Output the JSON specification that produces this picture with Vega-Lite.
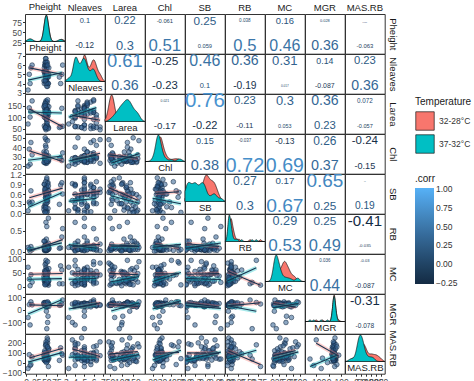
{
"$schema":"https://vega.github.io/schema/vega-lite/v6.json",
"padding":{"left":1,"top":1,"right":1,"bottom":1},
"datasets":{
"obs":[
{"T":"32-28°C","Ph":48,"Nl":6,"La":120,"Chl":30,"SB":0.8,"RB":0.1,"MC":44,"MGR":41,"MASRB":100},
{"T":"32-28°C","Ph":50,"Nl":4.3,"La":58,"Chl":27,"SB":0.45,"RB":0.06,"MC":62,"MGR":48,"MASRB":40},
{"T":"32-28°C","Ph":52,"Nl":5,"La":150,"Chl":25,"SB":0.62,"RB":0.15,"MC":30,"MGR":30,"MASRB":160},
{"T":"32-28°C","Ph":45,"Nl":5.7,"La":62,"Chl":33,"SB":0.9,"RB":0.09,"MC":48,"MGR":55,"MASRB":65},
{"T":"32-28°C","Ph":47,"Nl":6.3,"La":98,"Chl":28,"SB":0.3,"RB":0.12,"MC":55,"MGR":38,"MASRB":20},
{"T":"32-28°C","Ph":55,"Nl":4.7,"La":55,"Chl":29,"SB":0.72,"RB":0.05,"MC":25,"MGR":45,"MASRB":120},
{"T":"32-28°C","Ph":49,"Nl":5.3,"La":165,"Chl":24,"SB":0.58,"RB":0.2,"MC":70,"MGR":25,"MASRB":85},
{"T":"32-28°C","Ph":51,"Nl":5,"La":66,"Chl":31,"SB":1.05,"RB":0.08,"MC":38,"MGR":52,"MASRB":35},
{"T":"32-28°C","Ph":53,"Nl":4,"La":60,"Chl":27,"SB":0.4,"RB":0.1,"MC":45,"MGR":44,"MASRB":200},
{"T":"32-28°C","Ph":46,"Nl":6,"La":128,"Chl":28,"SB":0.68,"RB":0.14,"MC":20,"MGR":60,"MASRB":55},
{"T":"32-28°C","Ph":50,"Nl":5.7,"La":50,"Chl":26,"SB":0.85,"RB":0.07,"MC":58,"MGR":35,"MASRB":95},
{"T":"32-28°C","Ph":44,"Nl":5.3,"La":112,"Chl":35,"SB":0.2,"RB":0.11,"MC":36,"MGR":49,"MASRB":30},
{"T":"32-28°C","Ph":56,"Nl":5,"La":145,"Chl":29,"SB":0.6,"RB":0.09,"MC":65,"MGR":28,"MASRB":140},
{"T":"32-28°C","Ph":48,"Nl":6.7,"La":57,"Chl":23,"SB":0.75,"RB":0.18,"MC":42,"MGR":42,"MASRB":70},
{"T":"32-28°C","Ph":52,"Nl":4.7,"La":135,"Chl":30,"SB":0.5,"RB":0.04,"MC":28,"MGR":50,"MASRB":250},
{"T":"32-28°C","Ph":54,"Nl":5,"La":105,"Chl":27,"SB":0.95,"RB":0.13,"MC":52,"MGR":-50,"MASRB":45},
{"T":"32-28°C","Ph":47,"Nl":6,"La":52,"Chl":32,"SB":0.64,"RB":0.1,"MC":80,"MGR":46,"MASRB":60},
{"T":"32-28°C","Ph":49,"Nl":4.3,"La":170,"Chl":28,"SB":0.1,"RB":0.16,"MC":47,"MGR":40,"MASRB":190},
{"T":"32-28°C","Ph":51,"Nl":5,"La":65,"Chl":26,"SB":0.82,"RB":0.08,"MC":60,"MGR":58,"MASRB":25},
{"T":"32-28°C","Ph":50,"Nl":6.3,"La":110,"Chl":30,"SB":0.55,"RB":0.3,"MC":35,"MGR":32,"MASRB":110},
{"T":"32-28°C","Ph":12,"Nl":5.7,"La":125,"Chl":45,"SB":0.7,"RB":0.12,"MC":43,"MGR":65,"MASRB":-20},
{"T":"32-28°C","Ph":8,"Nl":5,"La":140,"Chl":38,"SB":0.35,"RB":0.06,"MC":27,"MGR":43,"MASRB":80},
{"T":"32-28°C","Ph":85,"Nl":4,"La":58,"Chl":29,"SB":0.88,"RB":0.09,"MC":75,"MGR":39,"MASRB":150},
{"T":"32-28°C","Ph":90,"Nl":6,"La":60,"Chl":34,"SB":0.6,"RB":0.55,"MC":10,"MGR":80,"MASRB":75},
{"T":"32-28°C","Ph":53,"Nl":3.7,"La":102,"Chl":28,"SB":0.92,"RB":0.1,"MC":50,"MGR":-100,"MASRB":230},
{"T":"32-28°C","Ph":46,"Nl":5.3,"La":155,"Chl":27,"SB":0.05,"RB":0.25,"MC":57,"MGR":47,"MASRB":50},
{"T":"32-28°C","Ph":49,"Nl":6.7,"La":45,"Chl":48,"SB":0.65,"RB":0.02,"MC":85,"MGR":37,"MASRB":210},
{"T":"32-28°C","Ph":51,"Nl":6,"La":120,"Chl":25,"SB":0.8,"RB":0.15,"MC":46,"MGR":45,"MASRB":90},
{"T":"32-28°C","Ph":55,"Nl":5,"La":50,"Chl":31,"SB":0.7,"RB":0.8,"MC":5,"MGR":48,"MASRB":-40},
{"T":"32-28°C","Ph":48,"Nl":6.3,"La":55,"Chl":42,"SB":0.98,"RB":0.03,"MC":40,"MGR":42,"MASRB":170},
{"T":"37-32°C","Ph":50,"Nl":4.3,"La":130,"Chl":27,"SB":0.45,"RB":0.05,"MC":15,"MGR":40,"MASRB":55},
{"T":"37-32°C","Ph":49,"Nl":5,"La":110,"Chl":25,"SB":0.1,"RB":0.08,"MC":22,"MGR":45,"MASRB":30},
{"T":"37-32°C","Ph":51,"Nl":4,"La":95,"Chl":28,"SB":0.6,"RB":0.03,"MC":12,"MGR":32,"MASRB":70},
{"T":"37-32°C","Ph":47,"Nl":5.3,"La":150,"Chl":24,"SB":0.25,"RB":0.1,"MC":30,"MGR":50,"MASRB":20},
{"T":"37-32°C","Ph":53,"Nl":4.7,"La":120,"Chl":26,"SB":0.35,"RB":0.06,"MC":10,"MGR":38,"MASRB":45},
{"T":"37-32°C","Ph":45,"Nl":4,"La":100,"Chl":29,"SB":0.9,"RB":0.04,"MC":20,"MGR":42,"MASRB":100},
{"T":"37-32°C","Ph":52,"Nl":5.7,"La":165,"Chl":25,"SB":0.05,"RB":0.12,"MC":38,"MGR":25,"MASRB":10},
{"T":"37-32°C","Ph":48,"Nl":4.3,"La":115,"Chl":27,"SB":0.5,"RB":0.05,"MC":14,"MGR":46,"MASRB":65},
{"T":"37-32°C","Ph":50,"Nl":6,"La":90,"Chl":30,"SB":0.3,"RB":0.07,"MC":26,"MGR":52,"MASRB":38},
{"T":"37-32°C","Ph":46,"Nl":5,"La":140,"Chl":24,"SB":0.75,"RB":0.02,"MC":9,"MGR":35,"MASRB":120},
{"T":"37-32°C","Ph":54,"Nl":4,"La":128,"Chl":26,"SB":0.15,"RB":0.15,"MC":17,"MGR":44,"MASRB":25},
{"T":"37-32°C","Ph":49,"Nl":4.7,"La":105,"Chl":28,"SB":0.58,"RB":0.04,"MC":45,"MGR":30,"MASRB":50},
{"T":"37-32°C","Ph":51,"Nl":3.7,"La":80,"Chl":23,"SB":0.4,"RB":0.09,"MC":11,"MGR":48,"MASRB":80},
{"T":"37-32°C","Ph":47,"Nl":5.3,"La":160,"Chl":27,"SB":0.2,"RB":0.05,"MC":25,"MGR":40,"MASRB":15},
{"T":"37-32°C","Ph":55,"Nl":4,"La":122,"Chl":25,"SB":0.85,"RB":0.2,"MC":19,"MGR":55,"MASRB":140},
{"T":"37-32°C","Ph":50,"Nl":5,"La":135,"Chl":31,"SB":0.02,"RB":0.03,"MC":8,"MGR":-10,"MASRB":0},
{"T":"37-32°C","Ph":48,"Nl":4.7,"La":112,"Chl":26,"SB":0.48,"RB":0.11,"MC":52,"MGR":49,"MASRB":60},
{"T":"37-32°C","Ph":52,"Nl":6.3,"La":75,"Chl":29,"SB":0.65,"RB":0.06,"MC":13,"MGR":36,"MASRB":35},
{"T":"37-32°C","Ph":44,"Nl":4.3,"La":145,"Chl":24,"SB":0.12,"RB":0.25,"MC":28,"MGR":58,"MASRB":75},
{"T":"37-32°C","Ph":56,"Nl":5.7,"La":118,"Chl":27,"SB":0.55,"RB":0.07,"MC":21,"MGR":43,"MASRB":42},
{"T":"37-32°C","Ph":10,"Nl":4,"La":100,"Chl":22,"SB":0.3,"RB":0.01,"MC":3,"MGR":-120,"MASRB":-30},
{"T":"37-32°C","Ph":5,"Nl":3.3,"La":70,"Chl":20,"SB":0.08,"RB":0.1,"MC":70,"MGR":-60,"MASRB":-60},
{"T":"37-32°C","Ph":15,"Nl":6,"La":170,"Chl":32,"SB":0.35,"RB":0.05,"MC":16,"MGR":41,"MASRB":58},
{"T":"37-32°C","Ph":88,"Nl":5,"La":138,"Chl":26,"SB":0.95,"RB":0.35,"MC":60,"MGR":50,"MASRB":90},
{"T":"37-32°C","Ph":82,"Nl":4.7,"La":55,"Chl":28,"SB":0.28,"RB":0.08,"MC":10,"MGR":38,"MASRB":22},
{"T":"37-32°C","Ph":50,"Nl":5.3,"La":132,"Chl":35,"SB":0.6,"RB":0.04,"MC":32,"MGR":47,"MASRB":68},
{"T":"37-32°C","Ph":49,"Nl":4,"La":125,"Chl":40,"SB":0.18,"RB":0.7,"MC":95,"MGR":60,"MASRB":180},
{"T":"37-32°C","Ph":51,"Nl":5,"La":90,"Chl":25,"SB":1.1,"RB":0.6,"MC":15,"MGR":-150,"MASRB":36},
{"T":"37-32°C","Ph":53,"Nl":6,"La":175,"Chl":47,"SB":0.5,"RB":0.1,"MC":90,"MGR":65,"MASRB":160},
{"T":"37-32°C","Ph":47,"Nl":4.3,"La":150,"Chl":50,"SB":0.03,"RB":0.05,"MC":6,"MGR":34,"MASRB":40}
],
"cor":[
{"k":"12","T":"a","r":0.1},{"k":"12","T":"b","r":-0.12},
{"k":"13","T":"a","r":0.22},{"k":"13","T":"b","r":0.3},
{"k":"14","T":"a","r":-0.061},{"k":"14","T":"b","r":0.51},
{"k":"15","T":"a","r":0.25},{"k":"15","T":"b","r":0.059},
{"k":"16","T":"a","r":0.038},{"k":"16","T":"b","r":0.5},
{"k":"17","T":"a","r":0.16},{"k":"17","T":"b","r":0.46},
{"k":"18","T":"a","r":0.028},{"k":"18","T":"b","r":0.36},
{"k":"19","T":"a","r":0.006},{"k":"19","T":"b","r":-0.063},
{"k":"23","T":"a","r":0.61},{"k":"23","T":"b","r":0.36},
{"k":"24","T":"a","r":-0.25},{"k":"24","T":"b","r":-0.23},
{"k":"25","T":"a","r":0.46},{"k":"25","T":"b","r":0.1},
{"k":"26","T":"a","r":0.36},{"k":"26","T":"b","r":-0.19},
{"k":"27","T":"a","r":0.31},{"k":"27","T":"b","r":0.017},
{"k":"28","T":"a","r":0.14},{"k":"28","T":"b","r":-0.087},
{"k":"29","T":"a","r":0.23},{"k":"29","T":"b","r":0.36},
{"k":"34","T":"a","r":0.021},{"k":"34","T":"b","r":-0.17},
{"k":"35","T":"a","r":0.76},{"k":"35","T":"b","r":-0.22},
{"k":"36","T":"a","r":0.23},{"k":"36","T":"b","r":-0.11},
{"k":"37","T":"a","r":0.3},{"k":"37","T":"b","r":0.053},
{"k":"38","T":"a","r":0.36},{"k":"38","T":"b","r":0.23},
{"k":"39","T":"a","r":0.072},{"k":"39","T":"b","r":-0.057},
{"k":"45","T":"a","r":0.15},{"k":"45","T":"b","r":0.38},
{"k":"46","T":"a","r":-0.037},{"k":"46","T":"b","r":0.72},
{"k":"47","T":"a","r":-0.13},{"k":"47","T":"b","r":0.69},
{"k":"48","T":"a","r":0.26},{"k":"48","T":"b","r":0.37},
{"k":"49","T":"a","r":-0.24},{"k":"49","T":"b","r":-0.15},
{"k":"56","T":"a","r":0.27},{"k":"56","T":"b","r":0.3},
{"k":"57","T":"a","r":0.17},{"k":"57","T":"b","r":0.67},
{"k":"58","T":"a","r":0.65},{"k":"58","T":"b","r":0.25},
{"k":"59","T":"a","r":0.001},{"k":"59","T":"b","r":0.19},
{"k":"67","T":"a","r":0.29},{"k":"67","T":"b","r":0.53},
{"k":"68","T":"a","r":0.25},{"k":"68","T":"b","r":0.49},
{"k":"69","T":"a","r":-0.41},{"k":"69","T":"b","r":-0.035},
{"k":"78","T":"a","r":0.036},{"k":"78","T":"b","r":0.44},
{"k":"79","T":"a","r":-0.03},{"k":"79","T":"b","r":-0.087},
{"k":"89","T":"a","r":-0.31},{"k":"89","T":"b","r":-0.078}
]
},
"data":{"name":"obs"},
"columns":9,
"spacing":0,
"bounds":"flush",
"resolve":{"scale":{"x":"independent","y":"independent"}},
"concat":[
{"title":"Pheight","layer":[
 {"transform":[{"density":"Ph","groupby":["T"],"bandwidth":4.5,"extent":[-2.5,95]}],"mark":"area","encoding":{"x":{"field":"value","type":"quantitative","scale":{"domain":[-2.5,95]},"axis":{"title":"Pheight","labels":false,"ticks":false,"titleY":-1,"titleBaseline":"bottom"}},"y":{"field":"density","type":"quantitative","stack":null,"scale":{"range":[27.5,1],"nice":false},"axis":null},"fill":{"field":"T","title":"Temperature","legend":{"orient":"none","legendX":390,"legendY":83,"symbolType":"square","symbolSize":340,"symbolStrokeColor":"#1a1a1a","symbolStrokeWidth":0.8,"rowPadding":1,"titlePadding":4}}}},
 {"mark":{"type":"point","opacity":0},"encoding":{"y":{"field":"Ph","type":"quantitative","scale":{"domain":[-2.5,95]},"axis":{"values":[25,50,75],"title":null,"orient":"left"}}}}
],"resolve":{"scale":{"y":"independent"}}},
{"title":"Nleaves","data":{"name":"cor"},"transform":[{"filter":"datum.k=='12'"},{"calculate":"sqrt(abs(datum.r))","as":"m"}],"mark":"text","encoding":{"y":{"field":"T","type":"nominal","axis":null},"text":{"field":"r"},"color":{"field":"r","type":"quantitative","title":".corr","scale":{"domain":[-0.27,1.02],"range":["#132B43","#56B1F7"],"clamp":true},"legend":{"orient":"none","legendX":390,"legendY":160,"gradientLength":96,"gradientThickness":19,"values":[-0.25,0,0.25,0.5,0.75,1],"format":".2f","titlePadding":4}},"size":{"field":"m","type":"quantitative","legend":null,"scale":{"domain":[0,0.872],"range":[0,20.5]}}}},
{"title":"Larea","data":{"name":"cor"},"transform":[{"filter":"datum.k=='13'"},{"calculate":"sqrt(abs(datum.r))","as":"m"}],"mark":"text","encoding":{"y":{"field":"T","type":"nominal","axis":null},"text":{"field":"r"},"color":{"field":"r","type":"quantitative","title":".corr"},"size":{"field":"m","type":"quantitative","legend":null}}},
{"title":"Chl","data":{"name":"cor"},"transform":[{"filter":"datum.k=='14'"},{"calculate":"sqrt(abs(datum.r))","as":"m"}],"mark":"text","encoding":{"y":{"field":"T","type":"nominal","axis":null},"text":{"field":"r"},"color":{"field":"r","type":"quantitative","title":".corr"},"size":{"field":"m","type":"quantitative","legend":null}}},
{"title":"SB","data":{"name":"cor"},"transform":[{"filter":"datum.k=='15'"},{"calculate":"sqrt(abs(datum.r))","as":"m"}],"mark":"text","encoding":{"y":{"field":"T","type":"nominal","axis":null},"text":{"field":"r"},"color":{"field":"r","type":"quantitative","title":".corr"},"size":{"field":"m","type":"quantitative","legend":null}}},
{"title":"RB","data":{"name":"cor"},"transform":[{"filter":"datum.k=='16'"},{"calculate":"sqrt(abs(datum.r))","as":"m"}],"mark":"text","encoding":{"y":{"field":"T","type":"nominal","axis":null},"text":{"field":"r"},"color":{"field":"r","type":"quantitative","title":".corr"},"size":{"field":"m","type":"quantitative","legend":null}}},
{"title":"MC","data":{"name":"cor"},"transform":[{"filter":"datum.k=='17'"},{"calculate":"sqrt(abs(datum.r))","as":"m"}],"mark":"text","encoding":{"y":{"field":"T","type":"nominal","axis":null},"text":{"field":"r"},"color":{"field":"r","type":"quantitative","title":".corr"},"size":{"field":"m","type":"quantitative","legend":null}}},
{"title":"MGR","data":{"name":"cor"},"transform":[{"filter":"datum.k=='18'"},{"calculate":"sqrt(abs(datum.r))","as":"m"}],"mark":"text","encoding":{"y":{"field":"T","type":"nominal","axis":null},"text":{"field":"r"},"color":{"field":"r","type":"quantitative","title":".corr"},"size":{"field":"m","type":"quantitative","legend":null}}},
{"title":"MAS.RB","data":{"name":"cor"},"transform":[{"filter":"datum.k=='19'"},{"calculate":"sqrt(abs(datum.r))","as":"m"}],"mark":"text","encoding":{"y":{"field":"T","type":"nominal","axis":{"orient":"right","title":"Pheight","labels":false,"ticks":false}},"text":{"field":"r"},"color":{"field":"r","type":"quantitative","title":".corr"},"size":{"field":"m","type":"quantitative","legend":null}}},

{"encoding":{"x":{"field":"Ph","type":"quantitative","scale":{"domain":[-2.5,95]},"axis":null},"y":{"field":"Nl","type":"quantitative","scale":{"domain":[2.9,7.2]},"axis":{"values":[3,4,5,6,7],"title":null}}},"layer":[{"mark":{"type":"circle","clip":true}},{"transform":[{"regression":"Nl","on":"Ph","groupby":["T"]}],"layer":[{"mark":{"type":"line","strokeWidth":4,"opacity":0.35},"encoding":{"stroke":{"field":"T","legend":null}}},{"mark":"line","encoding":{"detail":{"field":"T"}}}]}]},
{"transform":[{"density":"Nl","groupby":["T"],"bandwidth":0.22,"extent":[2.9,7.2]}],"mark":"area","encoding":{"x":{"field":"value","type":"quantitative","scale":{"domain":[2.9,7.2]},"axis":{"title":"Nleaves","labels":false,"ticks":false,"titleY":-1,"titleBaseline":"bottom"}},"y":{"field":"density","type":"quantitative","stack":null,"scale":{"range":[27.5,1],"nice":false},"axis":null},"fill":{"field":"T","title":"Temperature"}}},
{"data":{"name":"cor"},"transform":[{"filter":"datum.k=='23'"},{"calculate":"sqrt(abs(datum.r))","as":"m"}],"mark":"text","encoding":{"y":{"field":"T","type":"nominal","axis":null},"text":{"field":"r"},"color":{"field":"r","type":"quantitative","title":".corr"},"size":{"field":"m","type":"quantitative","legend":null}}},
{"data":{"name":"cor"},"transform":[{"filter":"datum.k=='24'"},{"calculate":"sqrt(abs(datum.r))","as":"m"}],"mark":"text","encoding":{"y":{"field":"T","type":"nominal","axis":null},"text":{"field":"r"},"color":{"field":"r","type":"quantitative","title":".corr"},"size":{"field":"m","type":"quantitative","legend":null}}},
{"data":{"name":"cor"},"transform":[{"filter":"datum.k=='25'"},{"calculate":"sqrt(abs(datum.r))","as":"m"}],"mark":"text","encoding":{"y":{"field":"T","type":"nominal","axis":null},"text":{"field":"r"},"color":{"field":"r","type":"quantitative","title":".corr"},"size":{"field":"m","type":"quantitative","legend":null}}},
{"data":{"name":"cor"},"transform":[{"filter":"datum.k=='26'"},{"calculate":"sqrt(abs(datum.r))","as":"m"}],"mark":"text","encoding":{"y":{"field":"T","type":"nominal","axis":null},"text":{"field":"r"},"color":{"field":"r","type":"quantitative","title":".corr"},"size":{"field":"m","type":"quantitative","legend":null}}},
{"data":{"name":"cor"},"transform":[{"filter":"datum.k=='27'"},{"calculate":"sqrt(abs(datum.r))","as":"m"}],"mark":"text","encoding":{"y":{"field":"T","type":"nominal","axis":null},"text":{"field":"r"},"color":{"field":"r","type":"quantitative","title":".corr"},"size":{"field":"m","type":"quantitative","legend":null}}},
{"data":{"name":"cor"},"transform":[{"filter":"datum.k=='28'"},{"calculate":"sqrt(abs(datum.r))","as":"m"}],"mark":"text","encoding":{"y":{"field":"T","type":"nominal","axis":null},"text":{"field":"r"},"color":{"field":"r","type":"quantitative","title":".corr"},"size":{"field":"m","type":"quantitative","legend":null}}},
{"data":{"name":"cor"},"transform":[{"filter":"datum.k=='29'"},{"calculate":"sqrt(abs(datum.r))","as":"m"}],"mark":"text","encoding":{"y":{"field":"T","type":"nominal","axis":{"orient":"right","title":"Nleaves","labels":false,"ticks":false}},"text":{"field":"r"},"color":{"field":"r","type":"quantitative","title":".corr"},"size":{"field":"m","type":"quantitative","legend":null}}},

{"encoding":{"x":{"field":"Ph","type":"quantitative","scale":{"domain":[-2.5,95]},"axis":null},"y":{"field":"La","type":"quantitative","scale":{"domain":[28,200]},"axis":{"values":[50,100,150],"title":null}}},"layer":[{"mark":{"type":"circle","clip":true}},{"transform":[{"regression":"La","on":"Ph","groupby":["T"]}],"layer":[{"mark":{"type":"line","strokeWidth":4,"opacity":0.35},"encoding":{"stroke":{"field":"T","legend":null}}},{"mark":"line","encoding":{"detail":{"field":"T"}}}]}]},
{"encoding":{"x":{"field":"Nl","type":"quantitative","scale":{"domain":[2.9,7.2]},"axis":null},"y":{"field":"La","type":"quantitative","scale":{"domain":[28,200]},"axis":null}},"layer":[{"mark":{"type":"circle","clip":true}},{"transform":[{"regression":"La","on":"Nl","groupby":["T"]}],"layer":[{"mark":{"type":"line","strokeWidth":4,"opacity":0.35},"encoding":{"stroke":{"field":"T","legend":null}}},{"mark":"line","encoding":{"detail":{"field":"T"}}}]}]},
{"transform":[{"density":"La","groupby":["T"],"bandwidth":11,"extent":[28,200]}],"mark":"area","encoding":{"x":{"field":"value","type":"quantitative","scale":{"domain":[28,200]},"axis":{"title":"Larea","labels":false,"ticks":false,"titleY":-1,"titleBaseline":"bottom"}},"y":{"field":"density","type":"quantitative","stack":null,"scale":{"range":[27.5,1],"nice":false},"axis":null},"fill":{"field":"T","title":"Temperature"}}},
{"data":{"name":"cor"},"transform":[{"filter":"datum.k=='34'"},{"calculate":"sqrt(abs(datum.r))","as":"m"}],"mark":"text","encoding":{"y":{"field":"T","type":"nominal","axis":null},"text":{"field":"r"},"color":{"field":"r","type":"quantitative","title":".corr"},"size":{"field":"m","type":"quantitative","legend":null}}},
{"data":{"name":"cor"},"transform":[{"filter":"datum.k=='35'"},{"calculate":"sqrt(abs(datum.r))","as":"m"}],"mark":"text","encoding":{"y":{"field":"T","type":"nominal","axis":null},"text":{"field":"r"},"color":{"field":"r","type":"quantitative","title":".corr"},"size":{"field":"m","type":"quantitative","legend":null}}},
{"data":{"name":"cor"},"transform":[{"filter":"datum.k=='36'"},{"calculate":"sqrt(abs(datum.r))","as":"m"}],"mark":"text","encoding":{"y":{"field":"T","type":"nominal","axis":null},"text":{"field":"r"},"color":{"field":"r","type":"quantitative","title":".corr"},"size":{"field":"m","type":"quantitative","legend":null}}},
{"data":{"name":"cor"},"transform":[{"filter":"datum.k=='37'"},{"calculate":"sqrt(abs(datum.r))","as":"m"}],"mark":"text","encoding":{"y":{"field":"T","type":"nominal","axis":null},"text":{"field":"r"},"color":{"field":"r","type":"quantitative","title":".corr"},"size":{"field":"m","type":"quantitative","legend":null}}},
{"data":{"name":"cor"},"transform":[{"filter":"datum.k=='38'"},{"calculate":"sqrt(abs(datum.r))","as":"m"}],"mark":"text","encoding":{"y":{"field":"T","type":"nominal","axis":null},"text":{"field":"r"},"color":{"field":"r","type":"quantitative","title":".corr"},"size":{"field":"m","type":"quantitative","legend":null}}},
{"data":{"name":"cor"},"transform":[{"filter":"datum.k=='39'"},{"calculate":"sqrt(abs(datum.r))","as":"m"}],"mark":"text","encoding":{"y":{"field":"T","type":"nominal","axis":{"orient":"right","title":"Larea","labels":false,"ticks":false}},"text":{"field":"r"},"color":{"field":"r","type":"quantitative","title":".corr"},"size":{"field":"m","type":"quantitative","legend":null}}},

{"encoding":{"x":{"field":"Ph","type":"quantitative","scale":{"domain":[-2.5,95]},"axis":null},"y":{"field":"Chl","type":"quantitative","scale":{"domain":[12,54]},"axis":{"values":[20,30,40,50],"title":null}}},"layer":[{"mark":{"type":"circle","clip":true}},{"transform":[{"regression":"Chl","on":"Ph","groupby":["T"]}],"layer":[{"mark":{"type":"line","strokeWidth":4,"opacity":0.35},"encoding":{"stroke":{"field":"T","legend":null}}},{"mark":"line","encoding":{"detail":{"field":"T"}}}]}]},
{"encoding":{"x":{"field":"Nl","type":"quantitative","scale":{"domain":[2.9,7.2]},"axis":null},"y":{"field":"Chl","type":"quantitative","scale":{"domain":[12,54]},"axis":null}},"layer":[{"mark":{"type":"circle","clip":true}},{"transform":[{"regression":"Chl","on":"Nl","groupby":["T"]}],"layer":[{"mark":{"type":"line","strokeWidth":4,"opacity":0.35},"encoding":{"stroke":{"field":"T","legend":null}}},{"mark":"line","encoding":{"detail":{"field":"T"}}}]}]},
{"encoding":{"x":{"field":"La","type":"quantitative","scale":{"domain":[28,200]},"axis":null},"y":{"field":"Chl","type":"quantitative","scale":{"domain":[12,54]},"axis":null}},"layer":[{"mark":{"type":"circle","clip":true}},{"transform":[{"regression":"Chl","on":"La","groupby":["T"]}],"layer":[{"mark":{"type":"line","strokeWidth":4,"opacity":0.35},"encoding":{"stroke":{"field":"T","legend":null}}},{"mark":"line","encoding":{"detail":{"field":"T"}}}]}]},
{"transform":[{"density":"Chl","groupby":["T"],"bandwidth":2,"extent":[12,54]}],"mark":"area","encoding":{"x":{"field":"value","type":"quantitative","scale":{"domain":[12,54]},"axis":{"title":"Chl","labels":false,"ticks":false,"titleY":-1,"titleBaseline":"bottom"}},"y":{"field":"density","type":"quantitative","stack":null,"scale":{"range":[27.5,1],"nice":false},"axis":null},"fill":{"field":"T","title":"Temperature"}}},
{"data":{"name":"cor"},"transform":[{"filter":"datum.k=='45'"},{"calculate":"sqrt(abs(datum.r))","as":"m"}],"mark":"text","encoding":{"y":{"field":"T","type":"nominal","axis":null},"text":{"field":"r"},"color":{"field":"r","type":"quantitative","title":".corr"},"size":{"field":"m","type":"quantitative","legend":null}}},
{"data":{"name":"cor"},"transform":[{"filter":"datum.k=='46'"},{"calculate":"sqrt(abs(datum.r))","as":"m"}],"mark":"text","encoding":{"y":{"field":"T","type":"nominal","axis":null},"text":{"field":"r"},"color":{"field":"r","type":"quantitative","title":".corr"},"size":{"field":"m","type":"quantitative","legend":null}}},
{"data":{"name":"cor"},"transform":[{"filter":"datum.k=='47'"},{"calculate":"sqrt(abs(datum.r))","as":"m"}],"mark":"text","encoding":{"y":{"field":"T","type":"nominal","axis":null},"text":{"field":"r"},"color":{"field":"r","type":"quantitative","title":".corr"},"size":{"field":"m","type":"quantitative","legend":null}}},
{"data":{"name":"cor"},"transform":[{"filter":"datum.k=='48'"},{"calculate":"sqrt(abs(datum.r))","as":"m"}],"mark":"text","encoding":{"y":{"field":"T","type":"nominal","axis":null},"text":{"field":"r"},"color":{"field":"r","type":"quantitative","title":".corr"},"size":{"field":"m","type":"quantitative","legend":null}}},
{"data":{"name":"cor"},"transform":[{"filter":"datum.k=='49'"},{"calculate":"sqrt(abs(datum.r))","as":"m"}],"mark":"text","encoding":{"y":{"field":"T","type":"nominal","axis":{"orient":"right","title":"Chl","labels":false,"ticks":false}},"text":{"field":"r"},"color":{"field":"r","type":"quantitative","title":".corr"},"size":{"field":"m","type":"quantitative","legend":null}}},

{"encoding":{"x":{"field":"Ph","type":"quantitative","scale":{"domain":[-2.5,95]},"axis":null},"y":{"field":"SB","type":"quantitative","scale":{"domain":[-0.01,1.22]},"axis":{"values":[0,0.3,0.6,0.9,1.2],"format":".1f","title":null}}},"layer":[{"mark":{"type":"circle","clip":true}},{"transform":[{"regression":"SB","on":"Ph","groupby":["T"]}],"layer":[{"mark":{"type":"line","strokeWidth":4,"opacity":0.35},"encoding":{"stroke":{"field":"T","legend":null}}},{"mark":"line","encoding":{"detail":{"field":"T"}}}]}]},
{"encoding":{"x":{"field":"Nl","type":"quantitative","scale":{"domain":[2.9,7.2]},"axis":null},"y":{"field":"SB","type":"quantitative","scale":{"domain":[-0.01,1.22]},"axis":null}},"layer":[{"mark":{"type":"circle","clip":true}},{"transform":[{"regression":"SB","on":"Nl","groupby":["T"]}],"layer":[{"mark":{"type":"line","strokeWidth":4,"opacity":0.35},"encoding":{"stroke":{"field":"T","legend":null}}},{"mark":"line","encoding":{"detail":{"field":"T"}}}]}]},
{"encoding":{"x":{"field":"La","type":"quantitative","scale":{"domain":[28,200]},"axis":null},"y":{"field":"SB","type":"quantitative","scale":{"domain":[-0.01,1.22]},"axis":null}},"layer":[{"mark":{"type":"circle","clip":true}},{"transform":[{"regression":"SB","on":"La","groupby":["T"]}],"layer":[{"mark":{"type":"line","strokeWidth":4,"opacity":0.35},"encoding":{"stroke":{"field":"T","legend":null}}},{"mark":"line","encoding":{"detail":{"field":"T"}}}]}]},
{"encoding":{"x":{"field":"Chl","type":"quantitative","scale":{"domain":[12,54]},"axis":null},"y":{"field":"SB","type":"quantitative","scale":{"domain":[-0.01,1.22]},"axis":null}},"layer":[{"mark":{"type":"circle","clip":true}},{"transform":[{"regression":"SB","on":"Chl","groupby":["T"]}],"layer":[{"mark":{"type":"line","strokeWidth":4,"opacity":0.35},"encoding":{"stroke":{"field":"T","legend":null}}},{"mark":"line","encoding":{"detail":{"field":"T"}}}]}]},
{"transform":[{"density":"SB","groupby":["T"],"bandwidth":0.07,"extent":[-0.01,1.22]}],"mark":"area","encoding":{"x":{"field":"value","type":"quantitative","scale":{"domain":[-0.01,1.22]},"axis":{"title":"SB","labels":false,"ticks":false,"titleY":-1,"titleBaseline":"bottom"}},"y":{"field":"density","type":"quantitative","stack":null,"scale":{"range":[27.5,1],"nice":false},"axis":null},"fill":{"field":"T","title":"Temperature"}}},
{"data":{"name":"cor"},"transform":[{"filter":"datum.k=='56'"},{"calculate":"sqrt(abs(datum.r))","as":"m"}],"mark":"text","encoding":{"y":{"field":"T","type":"nominal","axis":null},"text":{"field":"r"},"color":{"field":"r","type":"quantitative","title":".corr"},"size":{"field":"m","type":"quantitative","legend":null}}},
{"data":{"name":"cor"},"transform":[{"filter":"datum.k=='57'"},{"calculate":"sqrt(abs(datum.r))","as":"m"}],"mark":"text","encoding":{"y":{"field":"T","type":"nominal","axis":null},"text":{"field":"r"},"color":{"field":"r","type":"quantitative","title":".corr"},"size":{"field":"m","type":"quantitative","legend":null}}},
{"data":{"name":"cor"},"transform":[{"filter":"datum.k=='58'"},{"calculate":"sqrt(abs(datum.r))","as":"m"}],"mark":"text","encoding":{"y":{"field":"T","type":"nominal","axis":null},"text":{"field":"r"},"color":{"field":"r","type":"quantitative","title":".corr"},"size":{"field":"m","type":"quantitative","legend":null}}},
{"data":{"name":"cor"},"transform":[{"filter":"datum.k=='59'"},{"calculate":"sqrt(abs(datum.r))","as":"m"}],"mark":"text","encoding":{"y":{"field":"T","type":"nominal","axis":{"orient":"right","title":"SB","labels":false,"ticks":false}},"text":{"field":"r"},"color":{"field":"r","type":"quantitative","title":".corr"},"size":{"field":"m","type":"quantitative","legend":null}}},

{"encoding":{"x":{"field":"Ph","type":"quantitative","scale":{"domain":[-2.5,95]},"axis":null},"y":{"field":"RB","type":"quantitative","scale":{"domain":[-0.05,0.9]},"axis":{"values":[0,0.5],"format":".1f","title":null}}},"layer":[{"mark":{"type":"circle","clip":true}},{"transform":[{"regression":"RB","on":"Ph","groupby":["T"]}],"layer":[{"mark":{"type":"line","strokeWidth":4,"opacity":0.35},"encoding":{"stroke":{"field":"T","legend":null}}},{"mark":"line","encoding":{"detail":{"field":"T"}}}]}]},
{"encoding":{"x":{"field":"Nl","type":"quantitative","scale":{"domain":[2.9,7.2]},"axis":null},"y":{"field":"RB","type":"quantitative","scale":{"domain":[-0.05,0.9]},"axis":null}},"layer":[{"mark":{"type":"circle","clip":true}},{"transform":[{"regression":"RB","on":"Nl","groupby":["T"]}],"layer":[{"mark":{"type":"line","strokeWidth":4,"opacity":0.35},"encoding":{"stroke":{"field":"T","legend":null}}},{"mark":"line","encoding":{"detail":{"field":"T"}}}]}]},
{"encoding":{"x":{"field":"La","type":"quantitative","scale":{"domain":[28,200]},"axis":null},"y":{"field":"RB","type":"quantitative","scale":{"domain":[-0.05,0.9]},"axis":null}},"layer":[{"mark":{"type":"circle","clip":true}},{"transform":[{"regression":"RB","on":"La","groupby":["T"]}],"layer":[{"mark":{"type":"line","strokeWidth":4,"opacity":0.35},"encoding":{"stroke":{"field":"T","legend":null}}},{"mark":"line","encoding":{"detail":{"field":"T"}}}]}]},
{"encoding":{"x":{"field":"Chl","type":"quantitative","scale":{"domain":[12,54]},"axis":null},"y":{"field":"RB","type":"quantitative","scale":{"domain":[-0.05,0.9]},"axis":null}},"layer":[{"mark":{"type":"circle","clip":true}},{"transform":[{"regression":"RB","on":"Chl","groupby":["T"]}],"layer":[{"mark":{"type":"line","strokeWidth":4,"opacity":0.35},"encoding":{"stroke":{"field":"T","legend":null}}},{"mark":"line","encoding":{"detail":{"field":"T"}}}]}]},
{"encoding":{"x":{"field":"SB","type":"quantitative","scale":{"domain":[-0.01,1.22]},"axis":null},"y":{"field":"RB","type":"quantitative","scale":{"domain":[-0.05,0.9]},"axis":null}},"layer":[{"mark":{"type":"circle","clip":true}},{"transform":[{"regression":"RB","on":"SB","groupby":["T"]}],"layer":[{"mark":{"type":"line","strokeWidth":4,"opacity":0.35},"encoding":{"stroke":{"field":"T","legend":null}}},{"mark":"line","encoding":{"detail":{"field":"T"}}}]}]},
{"transform":[{"density":"RB","groupby":["T"],"bandwidth":0.025,"extent":[-0.05,0.9]}],"mark":"area","encoding":{"x":{"field":"value","type":"quantitative","scale":{"domain":[-0.05,0.9]},"axis":{"title":"RB","labels":false,"ticks":false,"titleY":-1,"titleBaseline":"bottom"}},"y":{"field":"density","type":"quantitative","stack":null,"scale":{"range":[27.5,1],"nice":false},"axis":null},"fill":{"field":"T","title":"Temperature"}}},
{"data":{"name":"cor"},"transform":[{"filter":"datum.k=='67'"},{"calculate":"sqrt(abs(datum.r))","as":"m"}],"mark":"text","encoding":{"y":{"field":"T","type":"nominal","axis":null},"text":{"field":"r"},"color":{"field":"r","type":"quantitative","title":".corr"},"size":{"field":"m","type":"quantitative","legend":null}}},
{"data":{"name":"cor"},"transform":[{"filter":"datum.k=='68'"},{"calculate":"sqrt(abs(datum.r))","as":"m"}],"mark":"text","encoding":{"y":{"field":"T","type":"nominal","axis":null},"text":{"field":"r"},"color":{"field":"r","type":"quantitative","title":".corr"},"size":{"field":"m","type":"quantitative","legend":null}}},
{"data":{"name":"cor"},"transform":[{"filter":"datum.k=='69'"},{"calculate":"sqrt(abs(datum.r))","as":"m"}],"mark":"text","encoding":{"y":{"field":"T","type":"nominal","axis":{"orient":"right","title":"RB","labels":false,"ticks":false}},"text":{"field":"r"},"color":{"field":"r","type":"quantitative","title":".corr"},"size":{"field":"m","type":"quantitative","legend":null}}},

{"encoding":{"x":{"field":"Ph","type":"quantitative","scale":{"domain":[-2.5,95]},"axis":null},"y":{"field":"MC","type":"quantitative","scale":{"domain":[-26,118]},"axis":{"values":[0,50,100],"title":null}}},"layer":[{"mark":{"type":"circle","clip":true}},{"transform":[{"regression":"MC","on":"Ph","groupby":["T"]}],"layer":[{"mark":{"type":"line","strokeWidth":4,"opacity":0.35},"encoding":{"stroke":{"field":"T","legend":null}}},{"mark":"line","encoding":{"detail":{"field":"T"}}}]}]},
{"encoding":{"x":{"field":"Nl","type":"quantitative","scale":{"domain":[2.9,7.2]},"axis":null},"y":{"field":"MC","type":"quantitative","scale":{"domain":[-26,118]},"axis":null}},"layer":[{"mark":{"type":"circle","clip":true}},{"transform":[{"regression":"MC","on":"Nl","groupby":["T"]}],"layer":[{"mark":{"type":"line","strokeWidth":4,"opacity":0.35},"encoding":{"stroke":{"field":"T","legend":null}}},{"mark":"line","encoding":{"detail":{"field":"T"}}}]}]},
{"encoding":{"x":{"field":"La","type":"quantitative","scale":{"domain":[28,200]},"axis":null},"y":{"field":"MC","type":"quantitative","scale":{"domain":[-26,118]},"axis":null}},"layer":[{"mark":{"type":"circle","clip":true}},{"transform":[{"regression":"MC","on":"La","groupby":["T"]}],"layer":[{"mark":{"type":"line","strokeWidth":4,"opacity":0.35},"encoding":{"stroke":{"field":"T","legend":null}}},{"mark":"line","encoding":{"detail":{"field":"T"}}}]}]},
{"encoding":{"x":{"field":"Chl","type":"quantitative","scale":{"domain":[12,54]},"axis":null},"y":{"field":"MC","type":"quantitative","scale":{"domain":[-26,118]},"axis":null}},"layer":[{"mark":{"type":"circle","clip":true}},{"transform":[{"regression":"MC","on":"Chl","groupby":["T"]}],"layer":[{"mark":{"type":"line","strokeWidth":4,"opacity":0.35},"encoding":{"stroke":{"field":"T","legend":null}}},{"mark":"line","encoding":{"detail":{"field":"T"}}}]}]},
{"encoding":{"x":{"field":"SB","type":"quantitative","scale":{"domain":[-0.01,1.22]},"axis":null},"y":{"field":"MC","type":"quantitative","scale":{"domain":[-26,118]},"axis":null}},"layer":[{"mark":{"type":"circle","clip":true}},{"transform":[{"regression":"MC","on":"SB","groupby":["T"]}],"layer":[{"mark":{"type":"line","strokeWidth":4,"opacity":0.35},"encoding":{"stroke":{"field":"T","legend":null}}},{"mark":"line","encoding":{"detail":{"field":"T"}}}]}]},
{"encoding":{"x":{"field":"RB","type":"quantitative","scale":{"domain":[-0.05,0.9]},"axis":null},"y":{"field":"MC","type":"quantitative","scale":{"domain":[-26,118]},"axis":null}},"layer":[{"mark":{"type":"circle","clip":true}},{"transform":[{"regression":"MC","on":"RB","groupby":["T"]}],"layer":[{"mark":{"type":"line","strokeWidth":4,"opacity":0.35},"encoding":{"stroke":{"field":"T","legend":null}}},{"mark":"line","encoding":{"detail":{"field":"T"}}}]}]},
{"transform":[{"density":"MC","groupby":["T"],"bandwidth":7,"extent":[-26,118]}],"mark":"area","encoding":{"x":{"field":"value","type":"quantitative","scale":{"domain":[-26,118]},"axis":{"title":"MC","labels":false,"ticks":false,"titleY":-1,"titleBaseline":"bottom"}},"y":{"field":"density","type":"quantitative","stack":null,"scale":{"range":[27.5,1],"nice":false},"axis":null},"fill":{"field":"T","title":"Temperature"}}},
{"data":{"name":"cor"},"transform":[{"filter":"datum.k=='78'"},{"calculate":"sqrt(abs(datum.r))","as":"m"}],"mark":"text","encoding":{"y":{"field":"T","type":"nominal","axis":null},"text":{"field":"r"},"color":{"field":"r","type":"quantitative","title":".corr"},"size":{"field":"m","type":"quantitative","legend":null}}},
{"data":{"name":"cor"},"transform":[{"filter":"datum.k=='79'"},{"calculate":"sqrt(abs(datum.r))","as":"m"}],"mark":"text","encoding":{"y":{"field":"T","type":"nominal","axis":{"orient":"right","title":"MC","labels":false,"ticks":false}},"text":{"field":"r"},"color":{"field":"r","type":"quantitative","title":".corr"},"size":{"field":"m","type":"quantitative","legend":null}}},

{"encoding":{"x":{"field":"Ph","type":"quantitative","scale":{"domain":[-2.5,95]},"axis":null},"y":{"field":"MGR","type":"quantitative","scale":{"domain":[-190,128]},"axis":{"values":[-100,0,100],"title":null}}},"layer":[{"mark":{"type":"circle","clip":true}},{"transform":[{"regression":"MGR","on":"Ph","groupby":["T"]}],"layer":[{"mark":{"type":"line","strokeWidth":4,"opacity":0.35},"encoding":{"stroke":{"field":"T","legend":null}}},{"mark":"line","encoding":{"detail":{"field":"T"}}}]}]},
{"encoding":{"x":{"field":"Nl","type":"quantitative","scale":{"domain":[2.9,7.2]},"axis":null},"y":{"field":"MGR","type":"quantitative","scale":{"domain":[-190,128]},"axis":null}},"layer":[{"mark":{"type":"circle","clip":true}},{"transform":[{"regression":"MGR","on":"Nl","groupby":["T"]}],"layer":[{"mark":{"type":"line","strokeWidth":4,"opacity":0.35},"encoding":{"stroke":{"field":"T","legend":null}}},{"mark":"line","encoding":{"detail":{"field":"T"}}}]}]},
{"encoding":{"x":{"field":"La","type":"quantitative","scale":{"domain":[28,200]},"axis":null},"y":{"field":"MGR","type":"quantitative","scale":{"domain":[-190,128]},"axis":null}},"layer":[{"mark":{"type":"circle","clip":true}},{"transform":[{"regression":"MGR","on":"La","groupby":["T"]}],"layer":[{"mark":{"type":"line","strokeWidth":4,"opacity":0.35},"encoding":{"stroke":{"field":"T","legend":null}}},{"mark":"line","encoding":{"detail":{"field":"T"}}}]}]},
{"encoding":{"x":{"field":"Chl","type":"quantitative","scale":{"domain":[12,54]},"axis":null},"y":{"field":"MGR","type":"quantitative","scale":{"domain":[-190,128]},"axis":null}},"layer":[{"mark":{"type":"circle","clip":true}},{"transform":[{"regression":"MGR","on":"Chl","groupby":["T"]}],"layer":[{"mark":{"type":"line","strokeWidth":4,"opacity":0.35},"encoding":{"stroke":{"field":"T","legend":null}}},{"mark":"line","encoding":{"detail":{"field":"T"}}}]}]},
{"encoding":{"x":{"field":"SB","type":"quantitative","scale":{"domain":[-0.01,1.22]},"axis":null},"y":{"field":"MGR","type":"quantitative","scale":{"domain":[-190,128]},"axis":null}},"layer":[{"mark":{"type":"circle","clip":true}},{"transform":[{"regression":"MGR","on":"SB","groupby":["T"]}],"layer":[{"mark":{"type":"line","strokeWidth":4,"opacity":0.35},"encoding":{"stroke":{"field":"T","legend":null}}},{"mark":"line","encoding":{"detail":{"field":"T"}}}]}]},
{"encoding":{"x":{"field":"RB","type":"quantitative","scale":{"domain":[-0.05,0.9]},"axis":null},"y":{"field":"MGR","type":"quantitative","scale":{"domain":[-190,128]},"axis":null}},"layer":[{"mark":{"type":"circle","clip":true}},{"transform":[{"regression":"MGR","on":"RB","groupby":["T"]}],"layer":[{"mark":{"type":"line","strokeWidth":4,"opacity":0.35},"encoding":{"stroke":{"field":"T","legend":null}}},{"mark":"line","encoding":{"detail":{"field":"T"}}}]}]},
{"encoding":{"x":{"field":"MC","type":"quantitative","scale":{"domain":[-26,118]},"axis":null},"y":{"field":"MGR","type":"quantitative","scale":{"domain":[-190,128]},"axis":null}},"layer":[{"mark":{"type":"circle","clip":true}},{"transform":[{"regression":"MGR","on":"MC","groupby":["T"]}],"layer":[{"mark":{"type":"line","strokeWidth":4,"opacity":0.35},"encoding":{"stroke":{"field":"T","legend":null}}},{"mark":"line","encoding":{"detail":{"field":"T"}}}]}]},
{"transform":[{"density":"MGR","groupby":["T"],"bandwidth":8,"extent":[-190,128]}],"mark":"area","encoding":{"x":{"field":"value","type":"quantitative","scale":{"domain":[-190,128]},"axis":{"title":"MGR","labels":false,"ticks":false,"titleY":-1,"titleBaseline":"bottom"}},"y":{"field":"density","type":"quantitative","stack":null,"scale":{"range":[27.5,1],"nice":false},"axis":null},"fill":{"field":"T","title":"Temperature"}}},
{"data":{"name":"cor"},"transform":[{"filter":"datum.k=='89'"},{"calculate":"sqrt(abs(datum.r))","as":"m"}],"mark":"text","encoding":{"y":{"field":"T","type":"nominal","axis":{"orient":"right","title":"MGR","labels":false,"ticks":false}},"text":{"field":"r"},"color":{"field":"r","type":"quantitative","title":".corr"},"size":{"field":"m","type":"quantitative","legend":null}}},

{"encoding":{"x":{"field":"Ph","type":"quantitative","scale":{"domain":[-2.5,95]},"axis":{"values":[0,25,50,75],"title":null}},"y":{"field":"MASRB","type":"quantitative","scale":{"domain":[-113,290]},"axis":{"values":[-100,0,100,200],"title":null}}},"layer":[{"mark":{"type":"circle","clip":true}},{"transform":[{"regression":"MASRB","on":"Ph","groupby":["T"]}],"layer":[{"mark":{"type":"line","strokeWidth":4,"opacity":0.35},"encoding":{"stroke":{"field":"T","legend":null}}},{"mark":"line","encoding":{"detail":{"field":"T"}}}]}]},
{"encoding":{"x":{"field":"Nl","type":"quantitative","scale":{"domain":[2.9,7.2]},"axis":{"values":[3,4,5,6,7],"title":null}},"y":{"field":"MASRB","type":"quantitative","scale":{"domain":[-113,290]},"axis":null}},"layer":[{"mark":{"type":"circle","clip":true}},{"transform":[{"regression":"MASRB","on":"Nl","groupby":["T"]}],"layer":[{"mark":{"type":"line","strokeWidth":4,"opacity":0.35},"encoding":{"stroke":{"field":"T","legend":null}}},{"mark":"line","encoding":{"detail":{"field":"T"}}}]}]},
{"encoding":{"x":{"field":"La","type":"quantitative","scale":{"domain":[28,200]},"axis":{"values":[50,100,150],"title":null}},"y":{"field":"MASRB","type":"quantitative","scale":{"domain":[-113,290]},"axis":null}},"layer":[{"mark":{"type":"circle","clip":true}},{"transform":[{"regression":"MASRB","on":"La","groupby":["T"]}],"layer":[{"mark":{"type":"line","strokeWidth":4,"opacity":0.35},"encoding":{"stroke":{"field":"T","legend":null}}},{"mark":"line","encoding":{"detail":{"field":"T"}}}]}]},
{"encoding":{"x":{"field":"Chl","type":"quantitative","scale":{"domain":[12,54]},"axis":{"values":[20,30,40,50],"title":null}},"y":{"field":"MASRB","type":"quantitative","scale":{"domain":[-113,290]},"axis":null}},"layer":[{"mark":{"type":"circle","clip":true}},{"transform":[{"regression":"MASRB","on":"Chl","groupby":["T"]}],"layer":[{"mark":{"type":"line","strokeWidth":4,"opacity":0.35},"encoding":{"stroke":{"field":"T","legend":null}}},{"mark":"line","encoding":{"detail":{"field":"T"}}}]}]},
{"encoding":{"x":{"field":"SB","type":"quantitative","scale":{"domain":[-0.01,1.22]},"axis":{"values":[0,0.3,0.6,0.9,1.2],"format":".1f","title":null}},"y":{"field":"MASRB","type":"quantitative","scale":{"domain":[-113,290]},"axis":null}},"layer":[{"mark":{"type":"circle","clip":true}},{"transform":[{"regression":"MASRB","on":"SB","groupby":["T"]}],"layer":[{"mark":{"type":"line","strokeWidth":4,"opacity":0.35},"encoding":{"stroke":{"field":"T","legend":null}}},{"mark":"line","encoding":{"detail":{"field":"T"}}}]}]},
{"encoding":{"x":{"field":"RB","type":"quantitative","scale":{"domain":[-0.05,0.9]},"axis":{"values":[0,0.25,0.5,0.75],"format":".2f","title":null}},"y":{"field":"MASRB","type":"quantitative","scale":{"domain":[-113,290]},"axis":null}},"layer":[{"mark":{"type":"circle","clip":true}},{"transform":[{"regression":"MASRB","on":"RB","groupby":["T"]}],"layer":[{"mark":{"type":"line","strokeWidth":4,"opacity":0.35},"encoding":{"stroke":{"field":"T","legend":null}}},{"mark":"line","encoding":{"detail":{"field":"T"}}}]}]},
{"encoding":{"x":{"field":"MC","type":"quantitative","scale":{"domain":[-26,118]},"axis":{"values":[0,25,50,75,100],"title":null}},"y":{"field":"MASRB","type":"quantitative","scale":{"domain":[-113,290]},"axis":null}},"layer":[{"mark":{"type":"circle","clip":true}},{"transform":[{"regression":"MASRB","on":"MC","groupby":["T"]}],"layer":[{"mark":{"type":"line","strokeWidth":4,"opacity":0.35},"encoding":{"stroke":{"field":"T","legend":null}}},{"mark":"line","encoding":{"detail":{"field":"T"}}}]}]},
{"encoding":{"x":{"field":"MGR","type":"quantitative","scale":{"domain":[-190,128]},"axis":{"values":[-100,0,100],"title":null}},"y":{"field":"MASRB","type":"quantitative","scale":{"domain":[-113,290]},"axis":null}},"layer":[{"mark":{"type":"circle","clip":true}},{"transform":[{"regression":"MASRB","on":"MGR","groupby":["T"]}],"layer":[{"mark":{"type":"line","strokeWidth":4,"opacity":0.35},"encoding":{"stroke":{"field":"T","legend":null}}},{"mark":"line","encoding":{"detail":{"field":"T"}}}]}]},
{"transform":[{"density":"MASRB","groupby":["T"],"bandwidth":20,"extent":[-113,290]}],"mark":"area","encoding":{"x":{"field":"value","type":"quantitative","scale":{"domain":[-113,290]},"axis":{"title":"MAS.RB","titleY":-1,"titleBaseline":"bottom","values":[0,50,100,150,200,250]}},"y":{"field":"density","type":"quantitative","stack":null,"scale":{"range":[27.5,1],"nice":false},"axis":{"orient":"right","title":"MAS.RB","labels":false,"ticks":false}},"fill":{"field":"T","title":"Temperature"}}}
],
"config":{
"font":"Liberation Sans",
"view":{"continuousWidth":39.7,"continuousHeight":39.7,"discreteWidth":39.7,"discreteHeight":39.7,"stroke":"#333333","strokeWidth":1},
"axis":{"grid":false,"domain":false,"tickColor":"#333333","tickSize":2.5,"labelFontSize":8.5,"labelColor":"#4d4d4d","labelPadding":1,"labelOverlap":false,"labelFlush":false,"labelBound":false,"titleFontSize":9.5,"titleFontWeight":"normal","titleColor":"#1a1a1a","titlePadding":3},
"title":{"fontSize":9.5,"fontWeight":"normal","color":"#1a1a1a","offset":2,"anchor":"middle"},
"legend":{"titleFontWeight":"normal","titleColor":"#1a1a1a","titleFontSize":10,"labelFontSize":8.5,"labelColor":"#333333","labelOverlap":false},
"range":{"category":["#F8766D","#00BFC4"]},
"scale":{"pointPadding":0.3},
"circle":{"size":22,"color":"#2f5f8f","fillOpacity":0.55,"stroke":"#152b45","strokeWidth":0.7,"strokeOpacity":0.8},
"line":{"stroke":"#17324f","strokeWidth":1.1},
"area":{"stroke":"#111111","strokeWidth":0.7,"opacity":1}
}
}
